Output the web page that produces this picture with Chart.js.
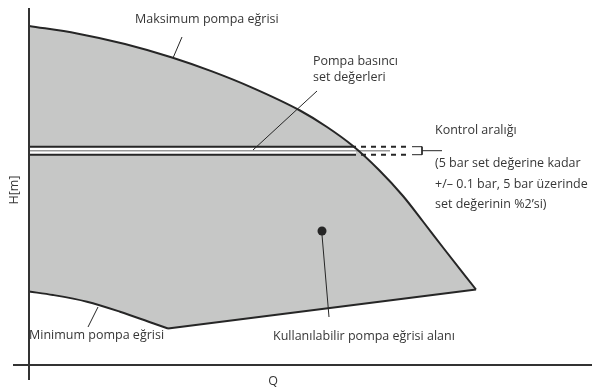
<!DOCTYPE html>
<html><head><meta charset="utf-8">
<script src="https://cdn.jsdelivr.net/npm/chart.js@4.4.0/dist/chart.umd.min.js"></script>
<style>html,body{margin:0;padding:0;background:#fff}#wrap{width:592px;height:392px;position:relative}</style>
</head><body><div id="wrap"><canvas id="c"></canvas></div>
<script>
// ---- data (Q, H in arbitrary schematic units) ----
const maxCurveQ = [0, 48, 96, 143, 183, 223, 271, 298, 324, 350, 374, 394, 414, 447];
const maxCurveH = [339, 331.6, 321, 307.5, 293.6, 277.4, 254.5, 238, 219, 195, 169, 143.5, 117.5, 75.5];
const minCurveQ = [0, 24, 58, 91, 124, 139];
const minCurveH = [73.5, 70, 63.3, 53.3, 41.7, 36.5];
const bottomLineQ = [139, 447];
const bottomLineH = [36.5, 75.5];
const setBandH = [218.3, 214.3, 210.3];      // upper limit, set value, lower limit
const setBandQ = [0, 327, 361, 378];         // start, end of solid, end of set line, end of dashed
const bracketQ = [383, 393, 413];
const operatingPoint = [{x: 293, y: 134}];
const axisQ = [-16, 563];
const axisH = [-15, 357];

const labels = [
  {text: 'Maksimum pompa eğrisi', q: 106, h: 346},
  {text: 'Pompa basıncı', q: 284, h: 304},
  {text: 'set değerleri', q: 284, h: 288},
  {text: 'Kontrol aralığı', q: 406, h: 235},
  {text: '(5 bar set değerine kadar', q: 406, h: 202},
  {text: '+/\u2013 0.1 bar, 5 bar üzerinde', q: 406, h: 181},
  {text: 'set değerinin %2\u2019si)', q: 406, h: 161},
  {text: 'Kullanılabilir pompa eğrisi alanı', q: 244, h: 29},
  {text: 'Minimum pompa eğrisi', q: 0, h: 30}
];
const axisTitles = {q: 'Q', h: 'H[m]'};
const leaders = [
  [[153, 328], [144, 307]],
  [[288, 274], [224, 215]],
  [[293, 130], [300, 48]],
  [[69, 58], [59, 38]]
];

const pts = (xs, ys) => xs.map((x, i) => ({x, y: ys[i]}));
const FILL = '#c6c7c6', INK = '#262626', TXT = '#363636';
const lowerEdge = pts(minCurveQ, minCurveH).concat(pts(bottomLineQ.slice(1), bottomLineH.slice(1)));
const hLine = (q0, q1, h) => [{x: q0, y: h}, {x: q1, y: h}];

const datasets = [
  // 0: filled region (bottom)
  {data: pts(maxCurveQ, maxCurveH), cubicInterpolationMode: 'monotone', borderWidth: 0,
   borderColor: 'rgba(0,0,0,0)', backgroundColor: FILL, fill: 1, order: 20},
  // 1: lower edge (fill target only)
  {data: lowerEdge, tension: 0, borderWidth: 0, borderColor: 'rgba(0,0,0,0)', order: 19},
  // min curve & bottom line strokes
  {data: pts(minCurveQ, minCurveH), cubicInterpolationMode: 'monotone', borderColor: INK, borderWidth: 2, order: 12},
  {data: pts(bottomLineQ, bottomLineH), borderColor: INK, borderWidth: 2, order: 12},
  // white band
  {data: hLine(setBandQ[0], setBandQ[1], setBandH[1]), borderColor: '#fff', borderWidth: 7, order: 18},
  // set value line (gray)
  {data: hLine(setBandQ[0], setBandQ[2], setBandH[1]), borderColor: '#9a9a9a', borderWidth: 1.5, order: 17},
  // upper / lower solid
  {data: hLine(setBandQ[0], setBandQ[1], setBandH[0]), borderColor: INK, borderWidth: 2, order: 16},
  {data: hLine(setBandQ[0], setBandQ[1], setBandH[2]), borderColor: INK, borderWidth: 2, order: 16},
  // dashed continuation
  {data: hLine(setBandQ[1], setBandQ[3], setBandH[0]), borderColor: INK, borderWidth: 2, borderDash: [5, 5], borderDashOffset: 5, order: 15},
  {data: hLine(setBandQ[1], setBandQ[3], setBandH[2]), borderColor: INK, borderWidth: 2, borderDash: [5, 5], borderDashOffset: 5, order: 15},
  // bracket
  {data: [{x: bracketQ[0], y: setBandH[0]}, {x: bracketQ[1], y: setBandH[0]}, {x: bracketQ[1], y: setBandH[2]}, {x: bracketQ[0], y: setBandH[2]}],
   borderColor: INK, borderWidth: 1, order: 14},
  {data: hLine(bracketQ[1], bracketQ[2], setBandH[1]), borderColor: INK, borderWidth: 1, order: 14},
  // max curve stroke
  {data: pts(maxCurveQ, maxCurveH), cubicInterpolationMode: 'monotone', borderColor: INK, borderWidth: 2, order: 12},
  // operating point
  {data: operatingPoint, showLine: false, pointRadius: 4.5, pointBackgroundColor: INK, pointBorderWidth: 0, order: 5},
  // axes
  {data: hLine(axisQ[0], axisQ[1], 0), borderColor: '#333', borderWidth: 2, order: 4},
  {data: [{x: 0, y: axisH[0]}, {x: 0, y: axisH[1]}], borderColor: '#333', borderWidth: 2, order: 4}
];
leaders.forEach(l => datasets.push({data: l.map(p => ({x: p[0], y: p[1]})), borderColor: INK, borderWidth: 1, order: 10}));
datasets.forEach(d => {
  if (d.pointRadius === undefined) d.pointRadius = 0;
  if (d.fill === undefined) d.fill = false;
  if (d.showLine === undefined) d.showLine = true;
  d.clip = false;
});

const textPlugin = {
  id: 'texts',
  afterDraw(chart) {
    const {ctx, scales: {x, y}} = chart;
    ctx.save();
    ctx.fillStyle = TXT;
    ctx.font = '12.5px "Open Sans"';
    ctx.textBaseline = 'middle';
    ctx.textAlign = 'left';
    labels.forEach(l => ctx.fillText(l.text, x.getPixelForValue(l.q), y.getPixelForValue(l.h)));
    ctx.textAlign = 'center';
    ctx.fillText(axisTitles.q, x.getPixelForValue(244), y.getPixelForValue(-16));
    ctx.translate(x.getPixelForValue(-15), y.getPixelForValue(175));
    ctx.rotate(-Math.PI / 2);
    ctx.fillText(axisTitles.h, 0, 0);
    ctx.restore();
  }
};

new Chart(document.getElementById('c'), {
  type: 'scatter',
  data: {datasets},
  options: {
    responsive: true, maintainAspectRatio: false, animation: false,
    layout: {padding: 0, autoPadding: false},
    elements: {line: {borderCapStyle: 'butt', borderJoinStyle: 'miter'}},
    plugins: {legend: {display: false}, tooltip: {enabled: false}, filler: {propagate: false}},
    events: [],
    scales: {
      x: {type: 'linear', display: false, min: -29, max: 563},
      y: {type: 'linear', display: false, min: -27, max: 365}
    }
  },
  plugins: [textPlugin]
});
</script></body></html>
